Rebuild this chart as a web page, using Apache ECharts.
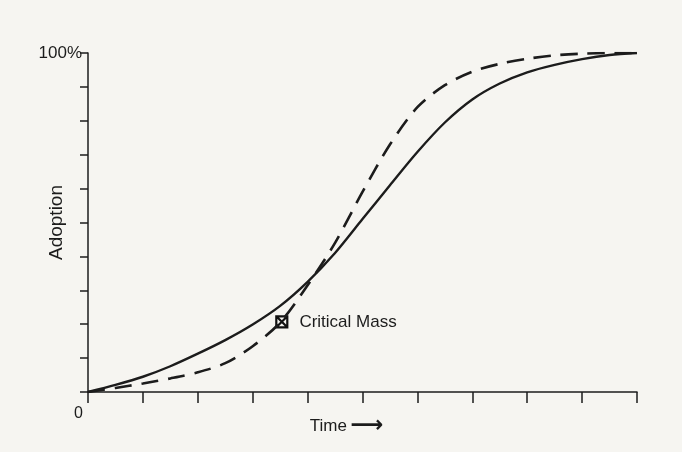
<!DOCTYPE html>
<html>
<head>
<meta charset="utf-8">
<script src="https://cdn.jsdelivr.net/npm/echarts@6/dist/echarts.min.js"></script>
<style>
	html, body {
		margin: 0;
		padding: 0;
		background-color: #f6f5f1;
	}
	#container {
		width: 682px;
		height: 452px;
	}
</style>
</head>
<body>
<div id="container"></div>
<script>
	// time steps (same for both curves)
	var timeSteps = [0, 0.5, 1, 1.5, 2, 2.5, 3, 3.5, 4, 4.5, 5, 5.5, 6, 6.5, 7, 7.5, 8, 8.5, 9, 9.5, 10];
	// solid curve
	var adoptSolid = [0, 2.1, 4.5, 7.6, 11.3, 15.3, 19.9, 25.4, 32.5, 41, 51, 61, 70.8, 79.5, 86.3, 91, 94.3, 96.5, 98.2, 99.4, 100];
	// dashed curve
	var adoptDashed = [0, 1.2, 2.5, 4, 5.8, 8.5, 13.5, 20.5, 31.5, 44, 59, 73, 84, 90.5, 94.5, 96.8, 98.3, 99.3, 99.8, 100, 100];
	// marker
	var criticalMass = [3.53, 20.7];
	var criticalLabel = 'Critical Mass';
	var yTickLabels = { 100: '100%' };
	var xTickLabels = { 0: '0' };

	function pairs(xs, ys) {
		var out = [];
		for (var i = 0; i < xs.length; i++) {
			out.push([xs[i], ys[i]]);
		}
		return out;
	}

	var ink = '#1c1c1c';
	var myChart = echarts.init(document.getElementById('container'));
	var option = {
		backgroundColor: '#f6f5f1',
		animation: false,
		grid: {
			left: 88,
			right: 45,
			top: 53,
			bottom: 60
		},
		xAxis: {
			type: 'value',
			min: 0,
			max: 10,
			interval: 1,
			name: '{t|Time} {a|\u27F6}',
			nameLocation: 'middle',
			nameGap: 23,
			nameMoveOverlap: false,
			nameTextStyle: {
				padding: [0, 32, 0, 0],
				rich: {
					t: { color: ink, fontFamily: 'Liberation Sans', fontSize: 17 },
					a: { color: ink, fontFamily: 'DejaVu Sans', fontWeight: 'bold', fontSize: 23 }
				}
			},
			splitLine: { show: false },
			axisLine: { lineStyle: { color: ink, width: 1.5 } },
			axisTick: { length: 11, lineStyle: { color: ink, width: 1.5 } },
			axisLabel: {
				color: ink,
				fontFamily: 'Liberation Sans',
				fontSize: 16,
				margin: 14,
				align: 'right',
				padding: [0, 5, 0, 0],
				formatter: function (v) { return xTickLabels[v] || ''; }
			}
		},
		yAxis: {
			type: 'value',
			min: 0,
			max: 100,
			interval: 10,
			name: 'Adoption',
			nameLocation: 'middle',
			nameRotate: 90,
			nameGap: 22,
			nameMoveOverlap: false,
			nameTextStyle: {
				color: ink,
				fontFamily: 'Liberation Sans',
				fontSize: 19
			},
			splitLine: { show: false },
			axisLine: { show: true, lineStyle: { color: ink, width: 1.5 } },
			axisTick: { show: true, length: 8, lineStyle: { color: ink, width: 1.5 } },
			axisLabel: {
				color: ink,
				fontFamily: 'Liberation Sans',
				fontSize: 17,
				margin: 6,
				formatter: function (v) { return yTickLabels[v] || ''; }
			}
		},
		series: [{
			type: 'line',
			data: pairs(timeSteps, adoptSolid),
			smooth: 0.3,
			showSymbol: false,
			lineStyle: { color: ink, width: 2.4 }
		}, {
			type: 'line',
			data: pairs(timeSteps, adoptDashed),
			smooth: 0.3,
			showSymbol: false,
			lineStyle: { color: ink, width: 2.6, type: [17, 10] }
		}, {
			type: 'scatter',
			data: [criticalMass],
			symbol: 'path://M0,0 L10,0 L10,10 L0,10 Z M0,0 L10,10 M10,0 L0,10',
			symbolSize: 11,
			itemStyle: { color: 'rgba(0,0,0,0)', borderColor: '#111', borderWidth: 2.2, opacity: 1 },
			label: {
				show: true,
				position: 'right',
				distance: 11,
				formatter: criticalLabel,
				color: ink,
				fontFamily: 'Liberation Sans',
				fontSize: 17
			}
		}]
	};
	myChart.setOption(option);
</script>
</body>
</html>
